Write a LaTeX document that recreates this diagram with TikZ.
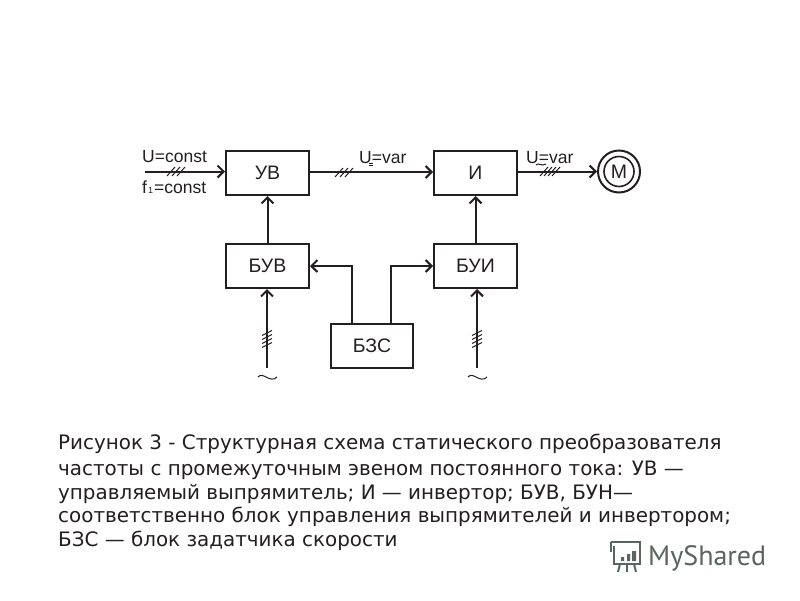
\documentclass[tikz,border=0pt]{standalone}
\usepackage{fontspec}
\setmainfont{Liberation Sans}
\newfontfamily\capfont{DejaVu Sans}
\newfontfamily\logofont{PT Sans}
\usetikzlibrary{arrows.meta}
\definecolor{ink}{HTML}{231F20}
\definecolor{logo}{HTML}{59655F}
\tikzset{
 x=1pt,y=-1pt,
 blockbox/.style={draw=ink,line width=2pt,minimum width=83pt,minimum height=44pt,inner sep=0pt,font=\fontsize{19.5}{19.5}\selectfont,text=ink},
 wire/.style={draw=ink,line width=2pt},
 arrowwire/.style={wire,-{Straight Barb[length=6pt,width=12pt,line width=2pt]}},
 tick/.style={draw=ink,line width=1pt},
 lab/.style={inner sep=0pt,anchor=base west,text=ink,font=\fontsize{17.5}{17.5}\selectfont},
 sublab/.style={inner sep=0pt,text=ink,font=\fontsize{9}{9}\selectfont},
 captext/.style={inner sep=0pt,anchor=base west,text=ink,font=\capfont\fontsize{19.9}{19.9}\selectfont},
 tildeline/.style={draw=ink,line width=1pt},
 logotext/.style={inner sep=0pt,anchor=base west,text=logo,font=\logofont\fontsize{28}{28}\selectfont},
 logoline/.style={draw=logo,line width=2pt}
}
\begin{document}
\begin{tikzpicture}
\useasboundingbox[fill=white] (0,0) rectangle (800,600);
% blocks
\node[blockbox] (uv) at (267.5,173) {УВ};
\node[blockbox] (inv) at (475.5,173) {И};
\node[blockbox] (buv) at (267.5,266) {БУВ};
\node[blockbox] (bui) at (475.5,266) {БУИ};
\node[blockbox,minimum width=82pt] (bzs) at (372,346) {БЗС};
\node[draw=ink,line width=2pt,circle,minimum size=42pt,inner sep=0pt] (motor) at (619,171.5) {};
\node[draw=ink,line width=1.6pt,circle,minimum size=30pt,inner sep=0pt,text=ink,font=\fontsize{19.5}{19.5}\selectfont] (motorin) at (619,171.5) {М};
% free ends
\coordinate (src) at (145,171.5);
\coordinate (acl) at (267,339);
\coordinate (acr) at (477,339);
\coordinate (acle) at (267,368);
\coordinate (acre) at (477,368);
% connectors
\draw[arrowwire] (src) -- (uv.west |- src);
\draw[arrowwire] (uv.east |- 0,172) -- (inv.west |- 0,172);
\draw[arrowwire] (inv.east |- 0,171.5) -- (motor.west |- 0,171.5);
\draw[arrowwire] (buv.north) -- (uv.south);
\draw[arrowwire] (bui.north) -- (inv.south);
\draw[arrowwire] (acle) -- (acle |- buv.south);
\draw[arrowwire] (acre) -- (acre |- bui.south);
\draw[arrowwire] (352,324) -- (352,266) -- (buv.east);
\draw[arrowwire] (391,324) -- (391,266) -- (bui.west);
% ticks
\foreach \tx in {170,175,180}{\draw[tick] (\tx-3,176) -- (\tx+5,167);}
\foreach \tx in {338,343,348}{\draw[tick] (\tx-3,177) -- (\tx+5,168);}
\foreach \tx in {543,547,551,555}{\draw[tick] (\tx-3,176) -- (\tx+5,167);}
\foreach \ty in {333,337,341,345}{\draw[tick] (262,\ty+2.5) -- (272,\ty-2.5);}
\foreach \ty in {333,337,341,345}{\draw[tick] (472,\ty+2.5) -- (482,\ty-2.5);}
% labels
\node[lab] (l1) at (142,162) {U=const};
\node[lab] (l2) at (142,193) {f};
\node[sublab,anchor=base west] (l2s) at (148,193) {1};
\node[lab] (l3) at (154,193) {=const};
\node[lab] (l4) at (359,163) {U=var};
\node[lab] (l5) at (526,163) {U=var};
% small marks under the U of the labels
\draw[tick,line width=0.5pt] (369,163.5) -- (373,163.5) (369,165) -- (373,165);
\draw[tildeline] (536,165) .. controls (539,162) and (541,167) .. (546,164);
\draw[tildeline] (258,377) .. controls (263,371) and (270,384) .. (277,377);
\draw[tildeline] (468,377) .. controls (473,371) and (480,384) .. (487,377);
% caption
\node[captext] (c1) at (58,449) {Рисунок 3 - Структурная схема статического преобразователя};
\node[captext] (c2) at (58,475) {частоты с промежуточным эвеном постоянного тока: УВ —};
\node[captext] (c3) at (58,499) {управляемый выпрямитель; И — инвертор; БУВ, БУН—};
\node[captext] (c4) at (58,522) {соответственно блок управления выпрямителей и инвертором;};
\node[captext] (c5) at (58,546) {БЗС — блок задатчика скорости};
% logo
\draw[logoline] (611,542) -- (640,542) -- (640,564) -- (614,564) -- (614,546);
\draw[logoline] (611,542) -- (611,552);
\draw[logoline] (620,564) -- (618,572);
\draw[logoline] (627,564) -- (627,572);
\draw[logoline] (634,564) -- (636,572);
\fill[logo] (621,557) rectangle (624,561) (627,554) rectangle (630,561) (632,551) rectangle (636,561);
\node[logotext] (logoname) at (648,565) {MyShared};
\end{tikzpicture}
\end{document}
